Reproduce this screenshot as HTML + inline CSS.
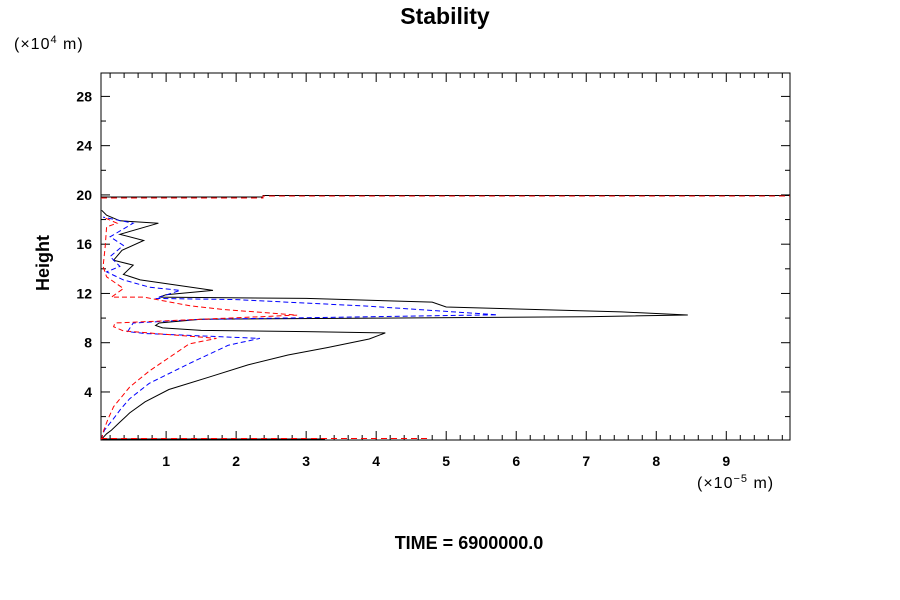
<!DOCTYPE html>
<html><head><meta charset="utf-8"><style>
body{margin:0;background:#fff;}
svg{display:block;font-family:"Liberation Sans",Arial,sans-serif;}
</style></head><body>
<svg id="chart" width="900" height="600">
<text x="445" y="24" text-anchor="middle" font-size="23" font-weight="bold">Stability</text>
<text x="14" y="49" font-size="16" letter-spacing="1">(×10<tspan dy="-6" font-size="11">4</tspan><tspan dy="6"> m)</tspan></text>
<text x="49" y="263" font-size="18" font-weight="bold" text-anchor="middle" transform="rotate(-90 49 263)">Height</text>
<text x="697" y="488" font-size="16" letter-spacing="1">(×10<tspan dy="-6" font-size="11">−5</tspan><tspan dy="6"> m)</tspan></text>
<text x="469" y="549" font-size="18" font-weight="bold" text-anchor="middle">TIME = 6900000.0</text>
<g id="plot"></g>
</svg>
<script>
const xTicks=[1,2,3,4,5,6,7,8,9];
const yTicks=[4,8,12,16,20,24,28];
const blackH=[0.1,0.3,0.6,0.9,1.5,2.3,3.2,4.2,5.2,6.2,7.0,7.6,8.3,8.8,8.9,9.0,9.2,9.4,9.6,9.9,10.0,10.1,10.25,10.5,10.9,11.3,11.6,11.7,11.9,12.25,13.1,13.55,14.3,14.7,15.5,16.3,16.8,17.7,17.9,18.35,18.75];
const blackV=[0.08,0.1,0.15,0.22,0.33,0.48,0.7,1.04,1.61,2.17,2.74,3.3,3.9,4.13,3.0,1.5,0.95,0.85,0.9,1.5,4.0,7.0,8.45,7.5,5.0,4.8,3.0,0.9,1.0,1.67,0.63,0.39,0.53,0.25,0.37,0.68,0.34,0.89,0.34,0.15,0.08];
const blueH=[0.1,0.5,0.9,1.84,2.6,3.45,4.7,6.3,7.8,8.35,8.75,8.9,9.6,9.9,10.27,10.97,11.5,11.6,12.25,12.5,13.1,13.75,14.2,15.0,15.9,16.6,17.7,18.2];
const blueV=[0.08,0.09,0.12,0.25,0.35,0.48,0.76,1.33,1.89,2.34,0.7,0.45,0.53,1.5,5.73,3.87,2.0,0.85,1.2,0.77,0.39,0.15,0.34,0.2,0.39,0.2,0.53,0.1];
const redH=[0.1,0.5,0.9,1.8,2.8,4.4,5.7,7.9,8.35,8.96,9.3,9.6,10.24,10.7,11.0,11.7,11.7,12.4,13.35,14.2,15.8,17.4,17.7,18.2];
const redV=[0.08,0.09,0.11,0.17,0.25,0.48,0.76,1.33,1.72,0.39,0.25,0.27,2.87,1.82,1.34,0.68,0.22,0.39,0.15,0.1,0.13,0.15,0.3,0.1];
const X0=101,X1=790,Y0=440,Y1=73,xmin=0.07,xmax=9.91,ymin=0.1,ymax=29.9;
const sx=v=>X0+(v-xmin)/(xmax-xmin)*(X1-X0);
const sy=v=>Y0-(v-ymin)/(ymax-ymin)*(Y0-Y1);
const NS='http://www.w3.org/2000/svg';
const g=document.getElementById('plot');
function mk(t,a){const e=document.createElementNS(NS,t);for(const k in a)e.setAttribute(k,a[k]);g.appendChild(e);return e;}
let e=mk('rect',{x:X0,y:Y1,width:X1-X0,height:Y0-Y1,fill:'none',stroke:'#000','stroke-width':1});


for(let v=0.2;v<xmax;v+=0.2){const r=Math.abs(v-Math.round(v))<0.01;const L=r?9:5;
 e=mk('line',{x1:sx(v),x2:sx(v),y1:Y0,y2:Y0-L,stroke:'#000'});
 
 
 e=mk('line',{x1:sx(v),x2:sx(v),y1:Y1,y2:Y1+L,stroke:'#000'});
 
 }
for(let v=2;v<ymax;v+=2){const L=(v%4===0)?9:5;
 e=mk('line',{x1:X0,x2:X0+L,y1:sy(v),y2:sy(v),stroke:'#000'});
 
 
 e=mk('line',{x1:X1,x2:X1-L,y1:sy(v),y2:sy(v),stroke:'#000'});
 
 }
xTicks.forEach(v=>{e=mk('text',{x:sx(v),y:466,'text-anchor':'middle','font-size':14,'font-weight':'bold'});e.textContent=v;
 
 });
yTicks.forEach(v=>{e=mk('text',{x:92,y:sy(v)+5,'text-anchor':'end','font-size':14,'font-weight':'bold'});e.textContent=v;
 
 });
function series(H,V,color,dash,name){const d=H.map((h,i)=>(i?'L':'M')+sx(V[i]).toFixed(1)+' '+sy(h).toFixed(1)).join(' ');
 const a={d:d,fill:'none',stroke:color,'stroke-width':1};if(dash)a['stroke-dasharray']=dash;
 e=mk('path',a);
 
 }
series(blackH,blackV,'#000',null,'series-black');
series(blueH,blueV,'#00f','5,3','series-blue');
series(redH,redV,'#f00','5,3','series-red');
e=mk('path',{d:`M${X0} 197 L263 197 L263 195.5 L${X1} 195.5`,fill:'none',stroke:'#000'});


e=mk('path',{d:`M${X0} 198 L263 198 L263 196 L${X1} 196`,fill:'none',stroke:'#f00','stroke-dasharray':'6,4'});


e=mk('line',{x1:X0,x2:325,y1:439,y2:439,stroke:'#000'});


e=mk('line',{x1:X0,x2:430,y1:438.5,y2:438.5,stroke:'#f00','stroke-dasharray':'6,4'});


</script>
</body></html>
